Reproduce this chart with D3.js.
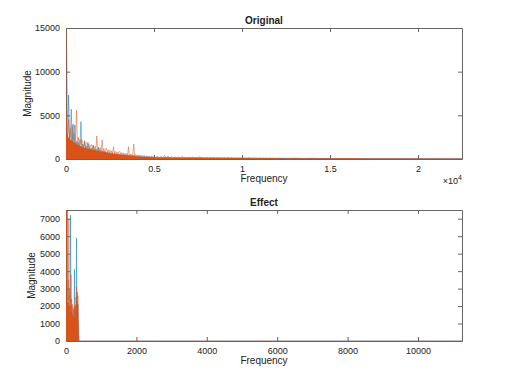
<!DOCTYPE html>
<html><head><meta charset="utf-8">
<script src="https://cdn.jsdelivr.net/npm/d3@7"></script>
<style>
body{margin:0;background:#fff}
text{font-family:"Liberation Sans",Arial,Helvetica,sans-serif;fill:#222}
</style>
</head><body>
<svg id="c" width="510" height="383"></svg>
<script>
// ---------- DATA ----------
// "Original" spectrum, low band: 0..5000 Hz, one value every 50 Hz
const origStep = 50;
const origOrange = [16000,11000,2800,4500,2400,3500,2200,3800,2100,2900,1850,2700,5600,1700,2500,1600,2300,1500,2200,1400,
  1350,2000,1300,1900,1800,1200,1700,1150,1600,1650,1100,1500,1050,1450,1000,2630,950,1350,920,1300,
  880,2180,850,1200,800,1150,1250,740,1050,700,1000,670,950,640,1400,610,870,580,830,550,
  800,900,510,740,490,700,470,670,450,640,430,1400,400,590,380,560,360,1720,340,510,
  320,480,300,460,290,440,270,410,260,390,250,370,230,350,220,330,210,310,200,290,190];
const origBlue = [9000,3000,2000,7330,1800,2500,5700,1700,4000,1600,3900,1500,2000,1400,1900,1300,1800,4270,1200,1700,
  1150,2100,1100,1500,1000,1900,950,1300,900,1250,850,1600,800,1150,760,1100,720,1300,690,1000,
  660,950,630,900,600,850,570,800,540,760,510,720,490,690,470,660,450,630,430,600,
  410,570,390,540,370,520,350,500,340,480,320,460,310,440,290,420,280,400,270,380,
  260,360,250,350,240,330,230,320,220,300,210,290,200,280,190,270,180,260,170,250,160];
// mid band: 5100..12000 Hz, every 100 Hz
const origMidStart = 5100, origMidStep = 100;
const origMidOrange = [180,270,175,260,170,400,165,250,160,240,155,235,150,230,148,300,145,220,140,215,
  138,210,135,205,132,260,130,195,128,190,125,185,122,180,120,175,118,170,115,165,
  112,220,110,160,108,155,105,150,102,145,100,140,95,180,90,130,88,125,85,120,
  82,115,80,110,78,105,75,100,72,95];
const origMidBlue = [150,220,145,210,140,200,135,300,130,190,125,185,120,180,118,175,115,170,112,165,
  110,160,108,155,105,200,102,150,100,145,98,140,95,135,92,130,90,125,88,120,
  85,115,82,110,80,105,78,100,75,98,72,95,70,92,68,90,65,88,62,85,
  60,82,58,80,56,78,54,75,52,72];
// high band: 12500..22500 Hz, every 500 Hz
const origHighStart = 12500, origHighStep = 500;
const origHighOrange = [70,90,60,80,55,70,50,60,45,55,40,50,35,45,30,40,28,35,25,30,20];
const origHighBlue   = [55,70,50,65,45,55,40,50,38,45,35,40,30,38,28,34,25,30,22,26,18];

// "Effect" spectrum: 0..400 Hz every 10 Hz, then zero up to the end
const effStep = 10;
const effOrange = [9000,2300,8000,2250,7600,2200,3500,2300,7000,2200,3000,1800,2600,1700,3800,1650,2400,1600,2100,1500,
  1900,1400,1800,1350,2000,1500,2100,1700,2500,2300,3100,2400,2800,2300,2600,1800,1200,0,0,0,0];
const effBlue = [3000,1800,5000,1900,2000,1800,2200,1700,1800,1600,2000,1500,2500,7200,1500,2000,1400,1600,1300,1500,
  1200,1400,1200,1500,4100,1300,1700,1400,2000,1600,5900,1800,2300,1700,2100,1300,400,0,0,0,0];
const effTailFreq = [400, 11250];
const effTailValue = [0, 0];

// axes
const origXMax = 22500, origYMax = 15000;
const origXTicks = [0,5000,10000,15000,20000];
const origXTickLabels = ["0","0.5","1","1.5","2"];
const origYTicks = [0,5000,10000,15000];
const effXMax = 11250, effYMax = 7500;
const effXTicks = [0,2000,4000,6000,8000,10000];
const effYTicks = [0,1000,2000,3000,4000,5000,6000,7000];

const BLUE = "#0072BD", ORANGE = "#D95319";

// ---------- helpers ----------
function pts(arr, start, step){ return arr.map((v,i)=>({f:start+i*step, v})); }

const svg = d3.select("#c");

function panel(opt){
  const {left, top, width, height, xMax, yMax, xTicks, xLabels, yTicks, title, series, id} = opt;
  const x = d3.scaleLinear().domain([0,xMax]).range([left, left+width]);
  const y = d3.scaleLinear().domain([0,yMax]).range([top+height, top]);
  const tl = 4;
  // axes first (MATLAB layer = bottom)
  const axB = d3.axisBottom(x).tickValues(xTicks).tickSizeInner(-tl).tickSizeOuter(0).tickPadding(6)
    .tickFormat((d,i)=> xLabels ? xLabels[i] : d3.format("d")(d));
  const axT = d3.axisTop(x).tickValues(xTicks).tickSizeInner(-tl).tickSizeOuter(0).tickFormat("");
  const axL = d3.axisLeft(y).tickValues(yTicks).tickSizeInner(-tl).tickSizeOuter(0).tickPadding(6)
    .tickFormat(d3.format("d"));
  const axR = d3.axisRight(y).tickValues(yTicks).tickSizeInner(-tl).tickSizeOuter(0).tickFormat("");
  const gb = svg.append("g").attr("transform",`translate(0,${top+height})`).call(axB);
  const gt = svg.append("g").attr("transform",`translate(0,${top})`).call(axT);
  const gl = svg.append("g").attr("transform",`translate(${left},0)`).call(axL);
  const gr = svg.append("g").attr("transform",`translate(${left+width},0)`).call(axR);
  [gb,gt,gl,gr].forEach(a=>{
    a.select(".domain").attr("stroke","#666").attr("stroke-width",1);
    a.selectAll(".tick line").attr("stroke","#666").attr("stroke-width",1);
    a.selectAll("text").attr("font-size",9).attr("fill","#222")
      .attr("font-family",'"Liberation Sans",Arial,sans-serif');
  });
  gb.selectAll("text").attr("dy","0.75em");

  svg.append("clipPath").attr("id",id).append("rect")
    .attr("x",left).attr("y",top).attr("width",width).attr("height",height);
  const g = svg.append("g").attr("clip-path",`url(#${id})`);
  const line = d3.line().x(d=>x(d.f)).y(d=>y(d.v));
  // dense solid part: lower envelope of each point and its neighbours
  const area = d3.area().x(d=>x(d.f)).y0(y(0)).y1((d,i,a)=>{
    const lo = Math.min(d.v, a[i-1] ? a[i-1].v : d.v, a[i+1] ? a[i+1].v : d.v);
    return y(lo);
  });
  series.forEach(s=>{
    g.append("path").datum(s.data).attr("d",area).attr("fill",s.color).attr("stroke","none");
    g.append("path").datum(s.data).attr("d",line)
      .attr("fill","none").attr("stroke",s.color).attr("stroke-width",0.7).attr("stroke-opacity",0.7);
  });

  svg.append("text").attr("x",left+width/2).attr("y",top-4).attr("text-anchor","middle")
    .attr("font-size",10).attr("font-weight","bold").text(title);
  svg.append("text").attr("x",left+width/2).attr("y",top+height+23).attr("text-anchor","middle")
    .attr("font-size",10).text("Frequency");
  return {x,y};
}

panel({
  id:"clipA", left:66, top:28, width:396, height:131,
  xMax:origXMax, yMax:origYMax, xTicks:origXTicks, xLabels:origXTickLabels, yTicks:origYTicks,
  title:"Original",
  series:[
    {color:BLUE, data:[...pts(origBlue,0,origStep), ...pts(origMidBlue,origMidStart,origMidStep), ...pts(origHighBlue,origHighStart,origHighStep)]},
    {color:ORANGE, data:[...pts(origOrange,0,origStep), ...pts(origMidOrange,origMidStart,origMidStep), ...pts(origHighOrange,origHighStart,origHighStep)]}
  ]
});
svg.append("text").attr("transform","translate(31,93.5) rotate(-90)").attr("text-anchor","middle")
  .attr("font-size",10).text("Magnitude");
const ex = svg.append("text").attr("x",462).attr("y",184).attr("text-anchor","end").attr("font-size",9);
ex.append("tspan").text("×10");
ex.append("tspan").attr("font-size",7).attr("dy",-4).text("4");

panel({
  id:"clipB", left:66, top:210, width:396, height:131,
  xMax:effXMax, yMax:effYMax, xTicks:effXTicks, xLabels:null, yTicks:effYTicks,
  title:"Effect",
  series:[
    {color:BLUE, data:[...pts(effBlue,0,effStep), ...effTailFreq.map((f,i)=>({f, v:effTailValue[i]}))]},
    {color:ORANGE, data:[...pts(effOrange,0,effStep), ...effTailFreq.map((f,i)=>({f, v:effTailValue[i]}))]}
  ]
});
svg.append("text").attr("transform","translate(35,275.5) rotate(-90)").attr("text-anchor","middle")
  .attr("font-size",10).text("Magnitude");
</script>
</body></html>
